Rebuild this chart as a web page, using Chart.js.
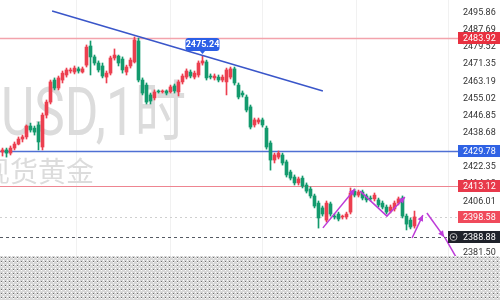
<!DOCTYPE html>
<html>
<head>
<meta charset="utf-8">
<script src="https://cdn.jsdelivr.net/npm/chart.js@4.4.1/dist/chart.umd.min.js"></script>
<style>
  html, body { margin: 0; padding: 0; background: #fff; }
  #wrap { width: 500px; height: 300px; }
</style>
</head>
<body>
<div id="wrap"><canvas id="goldChart" width="500" height="300"></canvas></div>
<script>
// 1h candles, XAUUSD
var openP = [2429.5,2430.5,2429.0,2431.4,2433.3,2435.7,2436.7,2441.9,2440.9,2442.4,
  2431.9,2447.1,2453.3,2463.8,2460.0,2463.8,2466.2,2468.1,2467.6,2469.1,
  2467.6,2470.9,2480.0,2474.8,2471.9,2470.5,2465.2,2467.1,2474.3,2475.2,
  2473.8,2467.6,2470.5,2472.4,2482.4,2463.8,2461.4,2456.7,2455.3,2458.6,
  2458.1,2458.6,2458.1,2461.0,2458.1,2462.9,2465.2,2467.6,2465.2,2466.2,
  2471.9,2472.4,2465.7,2464.8,2465.2,2463.8,2462.9,2465.2,2469.1,2461.4,
  2457.6,2455.7,2451.0,2442.4,2443.8,2444.8,2440.9,2433.8,2425.7,2427.1,
  2428.1,2424.8,2420.0,2417.6,2414.8,2417.1,2413.8,2411.9,2408.6,2405.2,
  2402.9,2397.1,2404.8,2399.0,2400.0,2398.6,2398.6,2400.9,2410.9,2409.0,
  2410.5,2408.6,2407.6,2407.2,2406.7,2405.2,2403.3,2401.4,2402.4,2405.2,
  2407.6,2399.0,2397.1,2394.3];
var closeP = [2430.5,2429.0,2431.4,2433.3,2435.7,2436.7,2441.9,2440.0,2439.0,2434.3,
  2447.1,2453.3,2462.9,2460.0,2464.8,2467.1,2468.6,2468.6,2469.5,2468.1,
  2469.1,2479.5,2474.8,2471.9,2468.6,2465.7,2467.1,2474.3,2475.7,2471.9,
  2468.6,2470.0,2473.3,2482.9,2463.8,2457.6,2453.3,2453.8,2458.1,2458.1,
  2458.6,2457.6,2460.5,2458.6,2462.9,2465.7,2468.1,2465.7,2467.1,2471.9,
  2472.9,2464.8,2465.2,2465.7,2463.8,2465.2,2468.6,2469.1,2462.4,2455.7,
  2456.7,2449.5,2441.4,2444.8,2444.8,2442.4,2431.9,2425.7,2428.1,2429.0,
  2424.3,2418.6,2417.1,2414.8,2416.7,2413.3,2410.9,2408.6,2403.8,2398.1,
  2400.0,2405.2,2400.0,2398.6,2397.6,2399.0,2400.0,2410.0,2409.0,2410.5,
  2407.6,2406.7,2407.2,2409.0,2404.3,2403.3,2400.9,2403.3,2405.2,2407.2,
  2399.0,2395.2,2393.8,2398.6];
var highP = [2431.4,2431.4,2432.4,2434.3,2436.7,2437.6,2442.4,2443.3,2441.9,2443.8,
  2448.1,2454.3,2463.8,2464.8,2465.7,2468.1,2469.5,2469.5,2470.5,2470.0,
  2470.0,2480.5,2482.4,2475.7,2472.9,2471.9,2468.1,2475.2,2478.6,2475.7,
  2474.8,2470.9,2474.3,2484.3,2483.8,2464.8,2462.4,2457.6,2459.1,2459.1,
  2459.1,2459.1,2461.4,2461.9,2463.8,2466.7,2469.1,2468.6,2468.1,2472.9,
  2475.24,2473.3,2466.7,2466.7,2466.2,2466.2,2469.5,2470.0,2470.0,2462.4,
  2458.6,2456.7,2451.9,2445.7,2445.7,2445.7,2441.9,2434.8,2429.0,2430.0,
  2429.0,2425.7,2420.9,2418.6,2417.6,2418.1,2414.8,2412.9,2409.5,2406.2,
  2403.8,2406.2,2405.7,2400.0,2400.9,2399.5,2400.9,2412.4,2411.9,2411.4,
  2411.4,2409.5,2408.6,2410.0,2407.6,2406.2,2404.3,2404.3,2406.2,2408.1,
  2408.6,2400.0,2398.1,2401.4];
var lowP = [2427.6,2427.1,2428.1,2430.5,2432.9,2434.3,2435.7,2439.0,2437.6,2430.5,
  2430.5,2445.7,2452.4,2459.1,2459.1,2462.4,2465.2,2467.1,2466.7,2467.1,
  2467.1,2470.0,2466.2,2470.9,2467.6,2464.8,2462.4,2466.2,2473.3,2470.5,
  2467.1,2466.2,2469.5,2471.9,2462.9,2456.7,2452.4,2452.4,2454.3,2457.6,
  2457.6,2456.7,2457.6,2457.6,2456.2,2461.9,2464.3,2464.8,2464.3,2465.2,
  2470.9,2463.8,2464.3,2463.8,2462.9,2462.9,2456.7,2464.3,2461.4,2454.8,
  2455.7,2448.6,2440.5,2441.4,2442.9,2441.4,2430.9,2420.9,2424.3,2426.2,
  2423.3,2417.6,2416.2,2413.8,2413.8,2412.4,2410.0,2407.6,2402.9,2393.3,
  2399.0,2396.2,2399.0,2397.6,2396.7,2397.6,2397.6,2400.0,2408.1,2408.1,
  2406.7,2405.7,2406.2,2406.2,2403.3,2402.4,2400.0,2400.5,2401.4,2404.3,
  2398.1,2392.4,2392.9,2393.3];

var tickValues = [2495.86,2487.69,2479.52,2471.35,2463.19,2455.02,2446.85,2438.68,
  2430.51,2422.35,2414.18,2406.01,2397.84,2389.67,2381.50];
var gridXTicks = [18.6, 41.9, 65.1, 88.4, 111.6];

var levelValues = [2483.92, 2429.78, 2413.12, 2398.58, 2388.88];
var peakIndex = 50;

var trendLine = [{x: 12.4, y: 2496.7}, {x: 80.1, y: 2458.6}];
var zigA = [{x: 80.1, y: 2393.4}, {x: 88.1, y: 2411.9}];
var zigB = [{x: 89.4, y: 2410.9}, {x: 96.1, y: 2399.0}, {x: 100.6, y: 2408.1}];
var zigC = [{x: 102.4, y: 2388.6}, {x: 105.1, y: 2399.5}];
var zigD = [{x: 106.1, y: 2400.5}, {x: 110.4, y: 2389.1}];
var zigE = [{x: 110.6, y: 2388.8}, {x: 114.0, y: 2377.5}];

var symbolText = 'USD,1时';
var nameText = '现货黄金';

var upColor = '#ec3f4f';
var downColor = '#139a6d';
var levelLineStyles = [
  {color: '#f3a3ac', width: 1.6, dash: []},
  {color: '#4f70d4', width: 1.6, dash: []},
  {color: '#ee8591', width: 1, dash: []},
  {color: '#cfcfcf', width: 1, dash: [2, 3]},
  {color: '#555a63', width: 1, dash: [3, 3]}
];
var levelBoxColors = ['#e8303f', '#2f62e4', '#e8394b', '#f04a5b', '#1f222a'];

var candleColors = openP.map(function (o, i) { return closeP[i] >= o ? upColor : downColor; });

function makePattern(ctx) {
  var c = document.createElement('canvas');
  c.width = 4; c.height = 4;
  var p = c.getContext('2d');
  p.fillStyle = '#d7d7d7';
  p.fillRect(0, 0, 4, 4);
  p.fillStyle = '#6e6e6e';
  p.fillRect(1, 1, 1, 1);
  p.fillStyle = '#ffffff';
  p.fillRect(1, 2, 1, 1);
  p.fillRect(3, 0, 1, 1);
  return ctx.createPattern(c, 'repeat');
}

function roundBox(ctx, x, y, w, h, r) {
  ctx.beginPath();
  ctx.moveTo(x + r, y);
  ctx.lineTo(x + w - r, y);
  ctx.quadraticCurveTo(x + w, y, x + w, y + r);
  ctx.lineTo(x + w, y + h - r);
  ctx.quadraticCurveTo(x + w, y + h, x + w - r, y + h);
  ctx.lineTo(x + r, y + h);
  ctx.quadraticCurveTo(x, y + h, x, y + h - r);
  ctx.lineTo(x, y + r);
  ctx.quadraticCurveTo(x, y, x + r, y);
  ctx.closePath();
}

var extras = {
  id: 'extras',
  beforeDatasetsDraw: function (chart) {
    var ctx = chart.ctx, area = chart.chartArea, ys = chart.scales.y;
    // watermark
    ctx.save();
    ctx.fillStyle = '#dcdcdc';
    ctx.font = '66px Roboto, "Noto Sans CJK SC"';
    var w = ctx.measureText(symbolText).width;
    ctx.translate(1, 135);
    ctx.scale(185 / w, 1);
    ctx.fillText(symbolText, 0, 0);
    ctx.restore();
    ctx.save();
    ctx.fillStyle = '#dcdcdc';
    ctx.font = '28px "Noto Sans CJK SC"';
    ctx.fillText(nameText, -18, 182);
    ctx.restore();

    // horizontal levels
    ctx.save();
    levelValues.forEach(function (v, k) {
      var st = levelLineStyles[k];
      var y = Math.round(ys.getPixelForValue(v)) + 0.5;
      ctx.strokeStyle = st.color;
      ctx.lineWidth = st.width;
      ctx.setLineDash(st.dash);
      ctx.beginPath();
      ctx.moveTo(area.left, y);
      ctx.lineTo(area.right, y);
      ctx.stroke();
    });
    ctx.restore();
  },
  afterDraw: function (chart) {
    var ctx = chart.ctx, area = chart.chartArea, ys = chart.scales.y, xs = chart.scales.x;
    ctx.save();

    // arrow heads on the zigzag
    [0, 1, 2, 3].forEach(function (k) {
      var pts = chart.getDatasetMeta(3 + k).data;
      var a = pts[pts.length - 2], b = pts[pts.length - 1];
      var ang = Math.atan2(b.y - a.y, b.x - a.x);
      ctx.fillStyle = '#bd3bd8';
      ctx.beginPath();
      ctx.moveTo(b.x, b.y);
      ctx.lineTo(b.x - 6 * Math.cos(ang) + 3 * Math.sin(ang), b.y - 6 * Math.sin(ang) - 3 * Math.cos(ang));
      ctx.lineTo(b.x - 6 * Math.cos(ang) - 3 * Math.sin(ang), b.y - 6 * Math.sin(ang) + 3 * Math.cos(ang));
      ctx.closePath();
      ctx.fill();
    });

    // price boxes on the axis
    ctx.font = '9px Roboto';
    ctx.textBaseline = 'middle';
    ctx.textAlign = 'left';
    levelValues.forEach(function (v, k) {
      var y = Math.round(ys.getPixelForValue(v));
      var left = k === 4 ? area.right - 10 : area.right;
      ctx.fillStyle = levelBoxColors[k];
      ctx.fillRect(left, y - 6, chart.width - left, 12);
      ctx.fillStyle = '#ffffff';
      ctx.fillText(v.toFixed(2), area.right + 5, y + 0.5);
      if (k === 4) {
        ctx.strokeStyle = '#b8b8b8';
        ctx.lineWidth = 1;
        ctx.beginPath();
        ctx.arc(left + 5.5, y, 3.5, 0, Math.PI * 2);
        ctx.stroke();
        ctx.fillStyle = '#b8b8b8';
        ctx.fillRect(left + 4.5, y - 1, 2, 2);
      }
    });

    // peak label
    var px = xs.getPixelForValue(peakIndex);
    var py = ys.getPixelForValue(highP[peakIndex]);
    ctx.fillStyle = '#2c5fe6';
    roundBox(ctx, px - 17, py - 18, 34, 13, 3);
    ctx.fill();
    ctx.beginPath();
    ctx.moveTo(px - 3, py - 5.5);
    ctx.lineTo(px + 3, py - 5.5);
    ctx.lineTo(px, py - 2);
    ctx.closePath();
    ctx.fill();
    ctx.fillStyle = '#ffffff';
    ctx.font = 'bold 9px Roboto';
    ctx.textAlign = 'center';
    ctx.fillText(highP[peakIndex].toFixed(2), px, py - 11);

    // transparent strip at the bottom of the screenshot
    ctx.fillStyle = makePattern(ctx);
    ctx.fillRect(0, 256, chart.width, chart.height - 256);
    ctx.restore();
  }
};

var ctx = document.getElementById('goldChart');
var goldChart = new Chart(ctx, {
  type: 'bar',
  data: {
    datasets: [
      {
        type: 'bar',
        data: lowP.map(function (l, i) { return {x: i, y: [l, highP[i]]}; }),
        backgroundColor: candleColors,
        barThickness: 1,
        grouped: false,
        order: 3
      },
      {
        type: 'bar',
        data: openP.map(function (o, i) { return {x: i, y: [o, closeP[i]]}; }),
        backgroundColor: candleColors,
        barThickness: 3,
        grouped: false,
        order: 2
      },
      {
        type: 'line',
        data: trendLine,
        borderColor: '#3a56c9',
        borderWidth: 1.5,
        pointRadius: 0,
        order: 1
      },
      {type: 'line', data: zigA, borderColor: '#bd3bd8', borderWidth: 1.5, pointRadius: 0, order: 0},
      {type: 'line', data: zigB, borderColor: '#bd3bd8', borderWidth: 1.5, pointRadius: 0, order: 0},
      {type: 'line', data: zigC, borderColor: '#bd3bd8', borderWidth: 1.5, pointRadius: 0, order: 0},
      {type: 'line', data: zigD, borderColor: '#bd3bd8', borderWidth: 1.5, pointRadius: 0, order: 0},
      {type: 'line', data: zigE, borderColor: '#bd3bd8', borderWidth: 1.5, pointRadius: 0, order: 0}
    ]
  },
  options: {
    responsive: false,
    animation: false,
    layout: { padding: 0 },
    plugins: {
      legend: { display: false },
      tooltip: { enabled: false }
    },
    scales: {
      x: {
        type: 'linear',
        min: -0.625,
        max: 113.875,
        offset: false,
        afterBuildTicks: function (scale) {
          scale.ticks = gridXTicks.map(function (v) { return {value: v}; });
        },
        grid: { color: '#f1f1f1', drawTicks: false, offset: false },
        border: { display: false },
        ticks: { display: false }
      },
      y: {
        position: 'right',
        min: 2359.05,
        max: 2501.91,
        beginAtZero: false,
        afterBuildTicks: function (scale) {
          scale.ticks = tickValues.map(function (v) { return {value: v}; });
        },
        afterFit: function (scale) {
          scale.width = 42;
          scale.paddingTop = 0;
          scale.paddingBottom = 0;
        },
        grid: { display: false, drawTicks: false },
        border: { display: false },
        ticks: {
          padding: 5,
          color: '#333333',
          font: { family: 'Roboto', size: 9 },
          callback: function (v) { return v.toFixed(2); }
        }
      }
    }
  },
  plugins: [extras]
});
</script>
</body>
</html>
